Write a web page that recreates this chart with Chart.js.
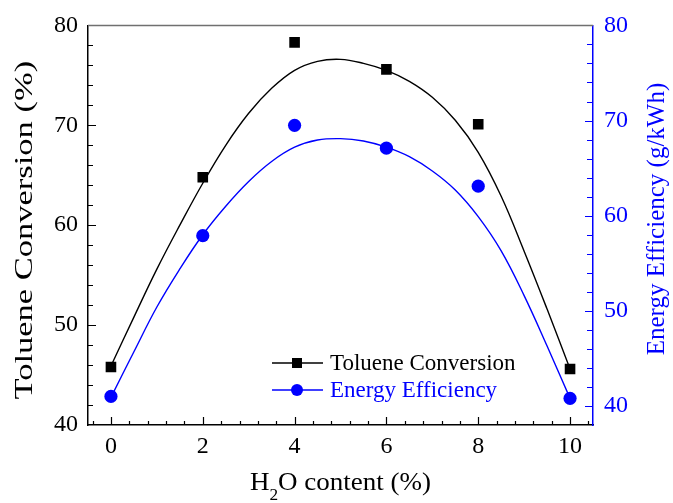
<!DOCTYPE html>
<html>
<head>
<meta charset="utf-8">
<script src="https://cdn.jsdelivr.net/npm/chart.js@4.4.1/dist/chart.umd.min.js"></script>
<style>
  html, body { margin: 0; padding: 0; background: #fff; }
  #wrap { width: 673px; height: 503px; }
</style>
</head>
<body>
<div id="wrap"><canvas id="c" width="673" height="503"></canvas></div>
<script>
// Measured samples
const h2oContent = [0, 2, 4, 6, 8, 10];
const tolueneConversion = [45.8, 64.8, 78.3, 75.6, 70.1, 45.6];
const energyEfficiency = [41.0, 57.9, 69.5, 67.1, 63.1, 40.8];

// Smoothed fit curves
const fitContent = [0, 0.5, 1, 1.5, 2, 2.5, 3, 3.5, 4, 4.5, 5, 5.5, 6, 6.5, 7, 7.5, 8, 8.5, 9, 9.5, 10];
const tolueneFit = [45.9, 50.8, 55.6, 60.0, 64.2, 68.0, 71.2, 73.7, 75.5, 76.4, 76.6, 76.2, 75.5, 74.4, 72.8, 70.5, 67.3, 62.9, 57.4, 51.6, 45.6];
const energyFit = [40.9, 45.7, 50.4, 54.4, 58.0, 61.0, 63.6, 65.7, 67.2, 67.95, 68.1, 67.85, 67.2, 66.2, 64.7, 62.7, 59.9, 56.3, 51.6, 46.3, 40.8];

// Axis ticks
const xTicks = [0, 2, 4, 6, 8, 10];
const leftTicks = [40, 50, 60, 70, 80];
const rightTicks = [40, 50, 60, 70, 80];

const SERIF = "'Liberation Serif', 'Times New Roman', serif";
const BLUE = '#0000ff';

const pts = (xs, ys) => xs.map((x, i) => ({ x: x, y: ys[i] }));

// Inward tick marks, top frame line, axis titles and legend
const decorations = {
  id: 'decorations',
  afterDraw(chart) {
    const { ctx, chartArea: a, scales } = chart;
    ctx.save();

    ctx.strokeStyle = '#707070';
    ctx.lineWidth = 1.5;
    ctx.beginPath();
    ctx.moveTo(a.left, a.top);
    ctx.lineTo(a.right, a.top);
    ctx.stroke();

    ctx.lineWidth = 1.2;
    ctx.strokeStyle = '#000';
    ctx.beginPath();
    for (let i = -1; i <= 26; i++) {
      const v = i * 0.4;
      const len = (i % 5 === 0) ? 8 : 4;
      const px = Math.round(scales.x.getPixelForValue(v)) + 0.5;
      ctx.moveTo(px, a.bottom);
      ctx.lineTo(px, a.bottom - len);
    }
    for (let v = 42; v < 80; v += 2) {
      const len = (v % 10 === 0) ? 8 : 5;
      const py = Math.round(scales.y.getPixelForValue(v)) + 0.5;
      ctx.moveTo(a.left, py);
      ctx.lineTo(a.left + len, py);
    }
    ctx.stroke();
    ctx.strokeStyle = BLUE;
    ctx.beginPath();
    for (let v = 40; v < 80; v += 2) {
      const len = (v % 10 === 0) ? 8 : 6;
      const py = Math.round(scales.y2.getPixelForValue(v)) + 0.5;
      ctx.moveTo(a.right, py);
      ctx.lineTo(a.right - len, py);
    }
    ctx.stroke();

    ctx.fillStyle = '#000';
    ctx.textAlign = 'center';
    ctx.textBaseline = 'alphabetic';
    ctx.save();
    ctx.translate(32, (a.top + a.bottom) / 2 + 5);
    ctx.rotate(-Math.PI / 2);
    ctx.scale(1.38, 1);
    ctx.font = '25px ' + SERIF;
    ctx.fillText('Toluene Conversion (%)', 0, 0);
    ctx.restore();

    ctx.save();
    ctx.fillStyle = BLUE;
    ctx.translate(664, 219);
    ctx.rotate(-Math.PI / 2);
    ctx.font = '25px ' + SERIF;
    ctx.fillText('Energy Efficiency (g/kWh)', 0, 0);
    ctx.restore();

    ctx.save();
    ctx.fillStyle = '#000';
    ctx.textAlign = 'left';
    const big = '25px ' + SERIF, small = '16px ' + SERIF;
    ctx.font = big;
    const wH = ctx.measureText('H').width;
    const wRest = ctx.measureText('O content (%)').width;
    ctx.font = small;
    const w2 = ctx.measureText('2').width;
    const total = wH + w2 + wRest;
    ctx.translate((a.left + a.right) / 2, 490);
    ctx.scale(1.08, 1);
    let x = -total / 2;
    ctx.font = big;
    ctx.fillText('H', x, 0); x += wH;
    ctx.font = small;
    ctx.fillText('2', x, 10); x += w2;
    ctx.font = big;
    ctx.fillText('O content (%)', x, 0);
    ctx.restore();

    const rows = [
      { label: 'Toluene Conversion', color: '#000', style: 'rect', y: 363 },
      { label: 'Energy Efficiency', color: BLUE, style: 'circle', y: 390 }
    ];
    ctx.font = '23px ' + SERIF;
    ctx.textAlign = 'left';
    ctx.textBaseline = 'alphabetic';
    rows.forEach(r => {
      ctx.strokeStyle = r.color;
      ctx.fillStyle = r.color;
      ctx.lineWidth = 1.5;
      ctx.beginPath();
      ctx.moveTo(272, r.y);
      ctx.lineTo(323, r.y);
      ctx.stroke();
      ctx.beginPath();
      if (r.style === 'rect') ctx.rect(292, r.y - 5, 10, 10);
      else ctx.arc(297, r.y, 6, 0, Math.PI * 2);
      ctx.fill();
      ctx.fillText(r.label, 330, r.y + 7);
    });

    ctx.restore();
  }
};

function draw() {
  new Chart(document.getElementById('c'), {
    type: 'line',
    data: {
      datasets: [
        {
          label: 'Toluene Conversion',
          data: pts(h2oContent, tolueneConversion),
          yAxisID: 'y',
          showLine: false,
          pointStyle: 'rect',
          pointRadius: 7.5,
          pointBackgroundColor: '#000',
          pointBorderWidth: 0,
          order: 0
        },
        {
          label: 'Energy Efficiency',
          data: pts(h2oContent, energyEfficiency),
          yAxisID: 'y2',
          showLine: false,
          pointStyle: 'circle',
          pointRadius: 6.6,
          pointBackgroundColor: BLUE,
          pointBorderWidth: 0,
          order: 0
        },
        {
          label: 'Toluene fit',
          data: pts(fitContent, tolueneFit),
          yAxisID: 'y',
          borderColor: '#000',
          borderWidth: 1.4,
          pointRadius: 0,
          tension: 0.4,
          fill: false,
          order: 1
        },
        {
          label: 'Energy fit',
          data: pts(fitContent, energyFit),
          yAxisID: 'y2',
          borderColor: BLUE,
          borderWidth: 1.4,
          pointRadius: 0,
          tension: 0.4,
          fill: false,
          order: 1
        }
      ]
    },
    options: {
      responsive: false,
      animation: false,
      layout: { padding: { top: 23, left: 0, right: 0, bottom: 0 } },
      plugins: { legend: { display: false }, tooltip: { enabled: false } },
      scales: {
        x: {
          type: 'linear',
          min: -0.5,
          max: 10.5,
          afterBuildTicks: s => { s.ticks = xTicks.map(v => ({ value: v })); },
          afterFit: s => { s.height = 78; },
          grid: { display: false, drawTicks: false },
          border: { display: true, color: '#000', width: 1.5 },
          ticks: { color: '#000', padding: 7, font: { family: SERIF, size: 24 } }
        },
        y: {
          position: 'left',
          min: 40,
          max: 80,
          afterBuildTicks: s => { s.ticks = leftTicks.map(v => ({ value: v })); },
          afterFit: s => { s.width = 88; },
          grid: { display: false, drawTicks: false },
          border: { display: true, color: '#000', width: 1.5 },
          ticks: { color: '#000', padding: 10, font: { family: SERIF, size: 24 } }
        },
        y2: {
          position: 'right',
          min: 38,
          max: 80,
          afterBuildTicks: s => { s.ticks = rightTicks.map(v => ({ value: v })); },
          afterFit: s => { s.width = 80; },
          grid: { display: false, drawTicks: false },
          border: { display: true, color: BLUE, width: 1.5 },
          ticks: { color: BLUE, padding: 11, font: { family: SERIF, size: 24 } }
        }
      }
    },
    plugins: [decorations]
  });
}

if (document.fonts && document.fonts.load) {
  Promise.all([
    document.fonts.load("24px 'Liberation Serif'"),
    document.fonts.load("16px 'Liberation Serif'")
  ]).then(draw, draw);
} else {
  draw();
}
</script>
</body>
</html>
